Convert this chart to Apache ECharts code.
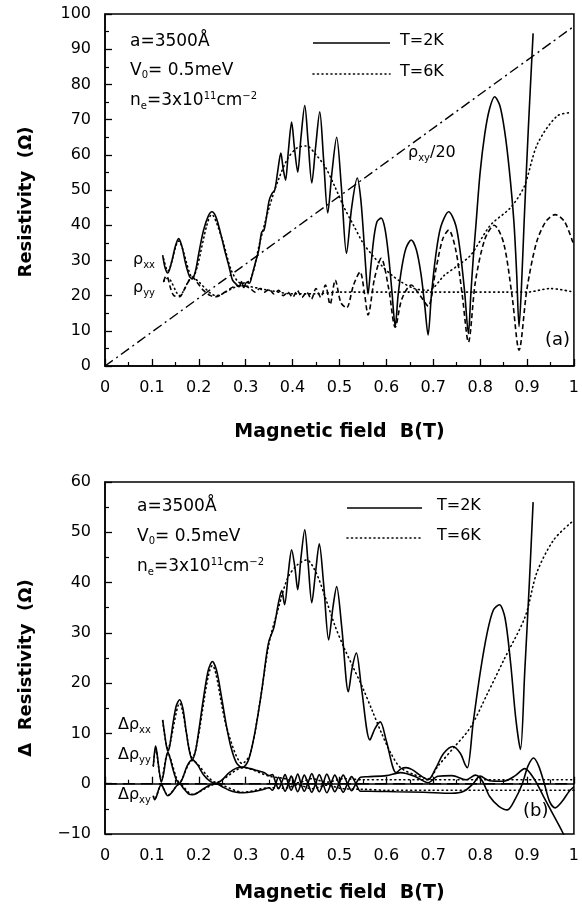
<!DOCTYPE html>
<html>
<head>
<meta charset="utf-8">
<script src="https://cdn.jsdelivr.net/npm/echarts@6/dist/echarts.min.js"></script>
<style>
  html, body { margin: 0; padding: 0; background: #fff; }
  #main { width: 582px; height: 907px; }
</style>
</head>
<body>
<div id="main"></div>
<script>
// ---- data ----
var xTicks = [0, 0.1, 0.2, 0.3, 0.4, 0.5, 0.6, 0.7, 0.8, 0.9, 1];

// panel (a): resistivity
var rhoXX2K = [[0.123,31.5],[0.128,28],[0.134,26.4],[0.142,29.5],[0.15,34],[0.157,36.2],[0.164,34],[0.172,29],[0.18,25.5],[0.186,24.7],[0.193,27],[0.2,32],[0.21,38.5],[0.22,42.5],[0.228,43.8],[0.236,42.5],[0.245,38.5],[0.255,33],[0.265,28],[0.272,24.4],[0.28,23.2],[0.286,22.5],[0.291,24],[0.296,22.3],[0.302,23.8],[0.308,23.5],[0.314,26],[0.32,29],[0.328,33],[0.334,38],[0.339,38.6],[0.344,42],[0.35,47],[0.356,49],[0.362,50],[0.368,55],[0.375,60.5],[0.38,56],[0.385,52.8],[0.391,61],[0.398,69.3],[0.404,62],[0.411,55.1],[0.418,65],[0.426,74],[0.433,64],[0.441,52],[0.449,62],[0.458,72.2],[0.466,59],[0.475,43.5],[0.484,55],[0.494,65],[0.504,51],[0.515,32],[0.526,45],[0.538,53.4],[0.545,48],[0.551,38],[0.556,28],[0.561,20.5],[0.566,27],[0.573,36],[0.58,41],[0.589,42],[0.597,39],[0.605,31],[0.612,21],[0.619,11.3],[0.625,20],[0.633,28],[0.642,33.5],[0.653,35.8],[0.664,33],[0.674,26],[0.682,17],[0.689,8.8],[0.696,20],[0.705,31],[0.716,39.5],[0.733,43.8],[0.748,40],[0.758,32],[0.767,21],[0.775,9.2],[0.78,20],[0.785,30],[0.791,40],[0.8,55],[0.81,66],[0.82,73],[0.831,76.5],[0.842,74],[0.852,67],[0.862,56],[0.872,41],[0.878,26],[0.883,11.2],[0.888,22],[0.894,41.5],[0.903,68],[0.913,94.5]];
var rhoXX6K = [[0.125,30.5],[0.134,27],[0.157,35.5],[0.186,25.2],[0.228,43],[0.25,36],[0.27,27],[0.29,23.5],[0.31,24.5],[0.33,35],[0.35,45],[0.37,53],[0.39,59],[0.41,62],[0.43,62.5],[0.45,60],[0.47,56.5],[0.49,51],[0.51,45],[0.53,40],[0.55,35],[0.57,31.5],[0.59,28.5],[0.61,26],[0.63,24],[0.66,22],[0.69,21.5],[0.724,25.8],[0.752,28.5],[0.78,31.5],[0.822,40],[0.865,45],[0.894,51],[0.922,63],[0.964,71],[0.995,72]];
var rhoYY2K = [[0.125,24],[0.13,25.5],[0.134,25],[0.14,22],[0.147,20],[0.159,19.7],[0.17,22],[0.18,24.5],[0.186,25.3],[0.195,24],[0.21,21.5],[0.225,20],[0.237,19.7],[0.25,20.5],[0.265,21.8],[0.28,22.8],[0.295,22.8],[0.31,22],[0.32,21],[0.33,22],[0.34,21],[0.35,21.8],[0.36,20.5],[0.37,21.5],[0.38,20],[0.39,21],[0.4,19.5],[0.41,21.5],[0.42,19.5],[0.43,21],[0.44,19],[0.45,22],[0.46,19.5],[0.47,23],[0.48,17.5],[0.491,24.4],[0.503,18],[0.515,16.5],[0.53,23],[0.544,26.7],[0.553,21],[0.561,14.5],[0.575,25],[0.589,30.6],[0.605,22],[0.619,11],[0.633,19],[0.653,23],[0.672,20],[0.689,17],[0.705,27],[0.72,36],[0.733,38.6],[0.748,33],[0.762,20],[0.775,6.8],[0.79,24],[0.81,36],[0.83,40],[0.85,35],[0.868,20],[0.883,4.5],[0.9,22],[0.92,35],[0.94,41],[0.96,43],[0.98,41],[0.998,35]];
var rhoYY6K = [[0.125,24],[0.134,25],[0.159,20],[0.186,25],[0.237,20],[0.29,22.8],[0.35,21.5],[0.4,20.5],[0.45,20.5],[0.5,21],[0.55,21],[0.65,21],[0.75,21],[0.85,21],[0.9,21],[0.95,22],[1,21]];
var rhoXYover20 = [[0,0],[1,96.5]];

// panel (b): change in resistivity
var dRxx2K = [[0.123,12.7],[0.127,10],[0.131,7.5],[0.134,6.5],[0.138,7.5],[0.145,12],[0.152,15.5],[0.159,16.7],[0.166,15],[0.173,10.5],[0.18,6.5],[0.186,4.8],[0.193,6.5],[0.2,10.5],[0.21,17],[0.22,22.5],[0.229,24.3],[0.238,22.5],[0.248,17.5],[0.258,12],[0.268,7.5],[0.28,4.2],[0.293,3.2],[0.305,4.5],[0.315,8],[0.325,13],[0.335,19],[0.345,26],[0.35,28.5],[0.36,31],[0.37,36],[0.377,38.4],[0.383,35.6],[0.391,42],[0.398,46.5],[0.405,43],[0.411,38.6],[0.418,45],[0.426,50.5],[0.433,44],[0.441,36],[0.449,42],[0.457,47.7],[0.466,40],[0.477,28.6],[0.486,35],[0.494,39.2],[0.505,31],[0.519,18.3],[0.527,23],[0.536,26],[0.547,19],[0.565,8.7],[0.576,11],[0.587,12.3],[0.6,8.5],[0.621,2.2],[0.632,3],[0.642,3.2],[0.655,2.8],[0.67,1.8],[0.689,0.8],[0.705,3],[0.722,6],[0.742,7.4],[0.758,6],[0.768,3.8],[0.773,3.2],[0.785,12],[0.8,22],[0.815,30],[0.828,34.5],[0.841,35.6],[0.853,33],[0.865,24],[0.876,13],[0.886,6.8],[0.895,22],[0.905,40],[0.913,56]];
var dRxx6K = [[0.123,12.5],[0.134,7],[0.159,16],[0.186,5.2],[0.229,23.5],[0.26,11],[0.293,4],[0.31,6],[0.33,16],[0.35,28],[0.37,35],[0.39,41],[0.41,43.5],[0.43,44.5],[0.45,42],[0.47,37],[0.49,31.5],[0.51,27],[0.53,23],[0.55,19],[0.57,14.5],[0.59,10],[0.61,6],[0.63,3.2],[0.66,1.8],[0.69,1],[0.71,3.5],[0.746,7.4],[0.78,11.3],[0.816,18],[0.851,24.7],[0.896,33.2],[0.921,42],[0.957,48.5],[0.995,52]];
var dRyy2K = [[0.103,3.5],[0.106,6.5],[0.108,7.5],[0.111,6],[0.115,3],[0.12,0.3],[0.125,2],[0.13,5],[0.134,6.3],[0.139,5],[0.146,2.5],[0.153,0.6],[0.159,0.1],[0.166,1.2],[0.175,3.5],[0.186,4.8],[0.197,3.8],[0.21,1.8],[0.225,0.4],[0.237,0.1],[0.25,0.8],[0.265,2.2],[0.28,3.1],[0.295,3.3],[0.31,3],[0.325,2.6],[0.34,2.2],[0.35,1.6],[0.357,1.8],[0.364,0.2],[0.37,-1],[0.377,0.3],[0.384,1.8],[0.391,0],[0.397,-1.3],[0.404,0.2],[0.411,1.9],[0.418,0],[0.425,-1.5],[0.433,0.2],[0.441,2],[0.449,0],[0.457,-1.6],[0.465,0],[0.473,1.9],[0.482,0],[0.49,-1.6],[0.499,0],[0.508,1.7],[0.517,0],[0.526,-1.4],[0.535,0],[0.545,1.3],[0.56,1.4],[0.6,1.6],[0.63,2.2],[0.66,1.5],[0.689,0.2],[0.71,1.5],[0.74,1.6],[0.77,0.8],[0.79,1.7],[0.805,0.5],[0.82,-2.5],[0.84,-4.5],[0.858,-5.2],[0.875,-3],[0.89,0],[0.902,3.5],[0.914,5.1],[0.925,3.5],[0.937,0],[0.948,-3.5],[0.96,-4.8],[0.975,-3.5],[0.99,-1.5],[1,-0.6]];
var dRxy2K = [[0.103,-2.5],[0.106,-3.2],[0.11,-2.5],[0.115,-1],[0.12,-0.1],[0.126,-1.2],[0.134,-2.4],[0.142,-1.8],[0.152,-0.5],[0.159,0],[0.168,-1],[0.178,-2],[0.186,-2.2],[0.196,-1.9],[0.21,-1],[0.225,-0.2],[0.237,0],[0.25,-0.6],[0.265,-1.3],[0.28,-1.7],[0.295,-1.8],[0.315,-1.6],[0.335,-1.2],[0.35,-0.8],[0.357,-1.3],[0.364,0],[0.37,1.3],[0.377,0],[0.384,-1.5],[0.391,0],[0.397,1.5],[0.404,0],[0.411,-1.6],[0.418,0],[0.425,1.7],[0.433,0],[0.441,-1.7],[0.449,0],[0.457,1.8],[0.465,0],[0.473,-1.8],[0.482,0],[0.49,1.7],[0.499,0],[0.508,-1.7],[0.517,0],[0.526,1.4],[0.535,0],[0.545,-1.5],[0.56,-1.5],[0.62,-1.6],[0.68,-1.7],[0.74,-1.9],[0.765,-1.5],[0.785,0],[0.8,1.5],[0.82,0.6],[0.85,0.5],[0.875,1.6],[0.895,3],[0.915,1],[0.935,-2.5],[0.955,-6],[0.975,-9.5],[0.99,-12.5]];
var dRyy6K = [[0.103,3.5],[0.108,7],[0.12,0.6],[0.134,6],[0.159,0.3],[0.186,4.6],[0.237,0.3],[0.295,3.2],[0.35,1.5],[0.384,1],[0.411,0.2],[0.441,1],[0.473,0.3],[0.508,1],[0.55,0.8],[0.6,0.8],[0.7,0.8],[0.8,0.8],[0.9,0.8],[1,0.8]];
var dRxy6K = [[0.103,-2.5],[0.106,-3],[0.12,-0.3],[0.134,-2.3],[0.159,-0.1],[0.186,-2.1],[0.237,-0.1],[0.295,-1.7],[0.35,-0.8],[0.384,-0.9],[0.411,-0.2],[0.441,-1],[0.473,-0.3],[0.508,-1],[0.55,-1.1],[0.6,-1.3],[0.7,-1.3],[0.8,-1.3],[0.9,-1.3],[1,-1.3]];
var zeroLine = [[0,0],[1,0]];

var FONT = 'DejaVu Sans';
var chart = echarts.init(document.getElementById('main'));

function xAxisFor(i, gap) {
  return {
    gridIndex: i, type: 'value', min: 0, max: 1, interval: 0.1,
    name: 'Magnetic field  B(T)', nameLocation: 'middle', nameGap: gap,
    nameTextStyle: { color: '#000', fontFamily: FONT, fontSize: 19, fontWeight: 'bold' },
    axisLine: { lineStyle: { color: '#000', width: 1.5 } },
    axisTick: { inside: true, length: 7, lineStyle: { color: '#000', width: 1.3 } },
    minorTick: { show: true, splitNumber: 2, length: 4, lineStyle: { color: '#000', width: 1.2 } },
    splitLine: { show: false },
    axisLabel: {
      color: '#000', fontFamily: FONT, fontSize: 16, margin: 14,
      formatter: function (v) { return (v === 0 || v === 1) ? String(v) : v.toFixed(1); }
    }
  };
}
function yAxisFor(i, name, min, max, shift) {
  return {
    gridIndex: i, type: 'value', min: min, max: max, interval: 10,
    name: name, nameLocation: 'middle', nameGap: 70, nameRotate: 90,
    nameTextStyle: { color: '#000', fontFamily: FONT, fontSize: 18, fontWeight: 'bold', padding: [0, shift, 0, 0] },
    axisLine: { lineStyle: { color: '#000', width: 1.5 } },
    axisTick: { inside: true, length: 7, lineStyle: { color: '#000', width: 1.3 } },
    minorTick: { show: true, splitNumber: 2, length: 4, lineStyle: { color: '#000', width: 1.2 } },
    splitLine: { show: false },
    axisLabel: {
      color: '#000', fontFamily: FONT, fontSize: 16, margin: 14,
      formatter: function (v) { return v < 0 ? '\u2212' + Math.abs(v) : String(v); }
    }
  };
}
function line(data, idx, style) {
  return {
    type: 'line', xAxisIndex: idx, yAxisIndex: idx, data: data,
    showSymbol: false, smooth: 0.3, silent: true,
    lineStyle: Object.assign({ color: '#000', width: 1.5 }, style)
  };
}
var SOLID = { type: 'solid', width: 1.6 };
var DOT = { type: [1, 3.5], width: 1.6, cap: 'round' };
var DASH = { type: [5, 3], width: 1.6 };

// rich text styles for labels with sub/superscripts
function label(x, y, text, size) {
  var r = {
    n: { fontFamily: FONT, fontSize: size, lineHeight: 20, verticalAlign: 'middle', fill: '#000' },
    s: { fontFamily: FONT, fontSize: 10, lineHeight: 10, verticalAlign: 'bottom', fill: '#000' },
    u: { fontFamily: FONT, fontSize: 10, lineHeight: 10, verticalAlign: 'top', fill: '#000' }
  };
  return { type: 'text', left: x, top: y - 10, silent: true,
    style: { text: text, rich: r, fill: '#000', font: size + 'px ' + FONT } };
}
function legendLine(x1, x2, y, dash) {
  return { type: 'line', silent: true, shape: { x1: x1, y1: y, x2: x2, y2: y },
    style: { stroke: '#000', lineWidth: 1.6, lineDash: dash, lineCap: dash ? 'round' : 'butt' } };
}

var option = {
  animation: false,
  backgroundColor: '#fff',
  grid: [
    { left: 105, right: 5, top: 14, height: 352, show: true, borderColor: '#000', borderWidth: 1.5 },
    { left: 105, right: 5, top: 482, height: 352, show: true, borderColor: '#000', borderWidth: 1.5 }
  ],
  xAxis: [xAxisFor(0, 57), xAxisFor(1, 50)],
  yAxis: [yAxisFor(0, 'Resistivity  (\u03A9)', 0, 100, 24), yAxisFor(1, '\u0394  Resistivity  (\u03A9)', -10, 60, 20)],
  series: [
    line(rhoXYover20, 0, { type: [10, 4, 2, 4], width: 1.4 }),
    line(rhoYY6K, 0, DOT),
    line(rhoXX6K, 0, DOT),
    line(rhoYY2K, 0, DASH),
    line(rhoXX2K, 0, SOLID),
    line(zeroLine, 1, { type: [12, 6], width: 1.4 }),
    line(dRyy6K, 1, DOT),
    line(dRxy6K, 1, DOT),
    line(dRxx6K, 1, DOT),
    line(dRyy2K, 1, SOLID),
    line(dRxy2K, 1, SOLID),
    line(dRxx2K, 1, SOLID)
  ],
  graphic: [
    label(130, 43, '{n|a=3500\u00C5}', 17),
    label(130, 72, '{n|V}{s|0}{n|= 0.5meV}', 17),
    label(130, 101, '{n|n}{s|e}{n|=3x10}{u|11}{n|cm}{u|\u22122}', 17),
    legendLine(313, 390, 43),
    legendLine(313, 390, 74, [1, 3.5]),
    label(400, 43, '{n|T=2K}', 16),
    label(400, 74, '{n|T=6K}', 16),
    label(408, 155, '{n|\u03C1}{s|xy}{n|/20}', 16),
    label(133, 262, '{n|\u03C1}{s|xx}', 16),
    label(133, 290, '{n|\u03C1}{s|yy}', 16),
    label(545, 341, '{n|(a)}', 18),

    label(137, 508, '{n|a=3500\u00C5}', 17),
    label(137, 538, '{n|V}{s|0}{n|= 0.5meV}', 17),
    label(137, 567, '{n|n}{s|e}{n|=3x10}{u|11}{n|cm}{u|\u22122}', 17),
    legendLine(347, 422, 508),
    legendLine(347, 422, 538, [1, 3.5]),
    label(437, 508, '{n|T=2K}', 16),
    label(437, 538, '{n|T=6K}', 16),
    label(118, 727, '{n|\u0394\u03C1}{s|xx}', 16),
    label(118, 757, '{n|\u0394\u03C1}{s|yy}', 16),
    label(118, 797, '{n|\u0394\u03C1}{s|xy}', 16),
    label(523, 812, '{n|(b)}', 18)
  ]
};
chart.setOption(option);
</script>
</body>
</html>
